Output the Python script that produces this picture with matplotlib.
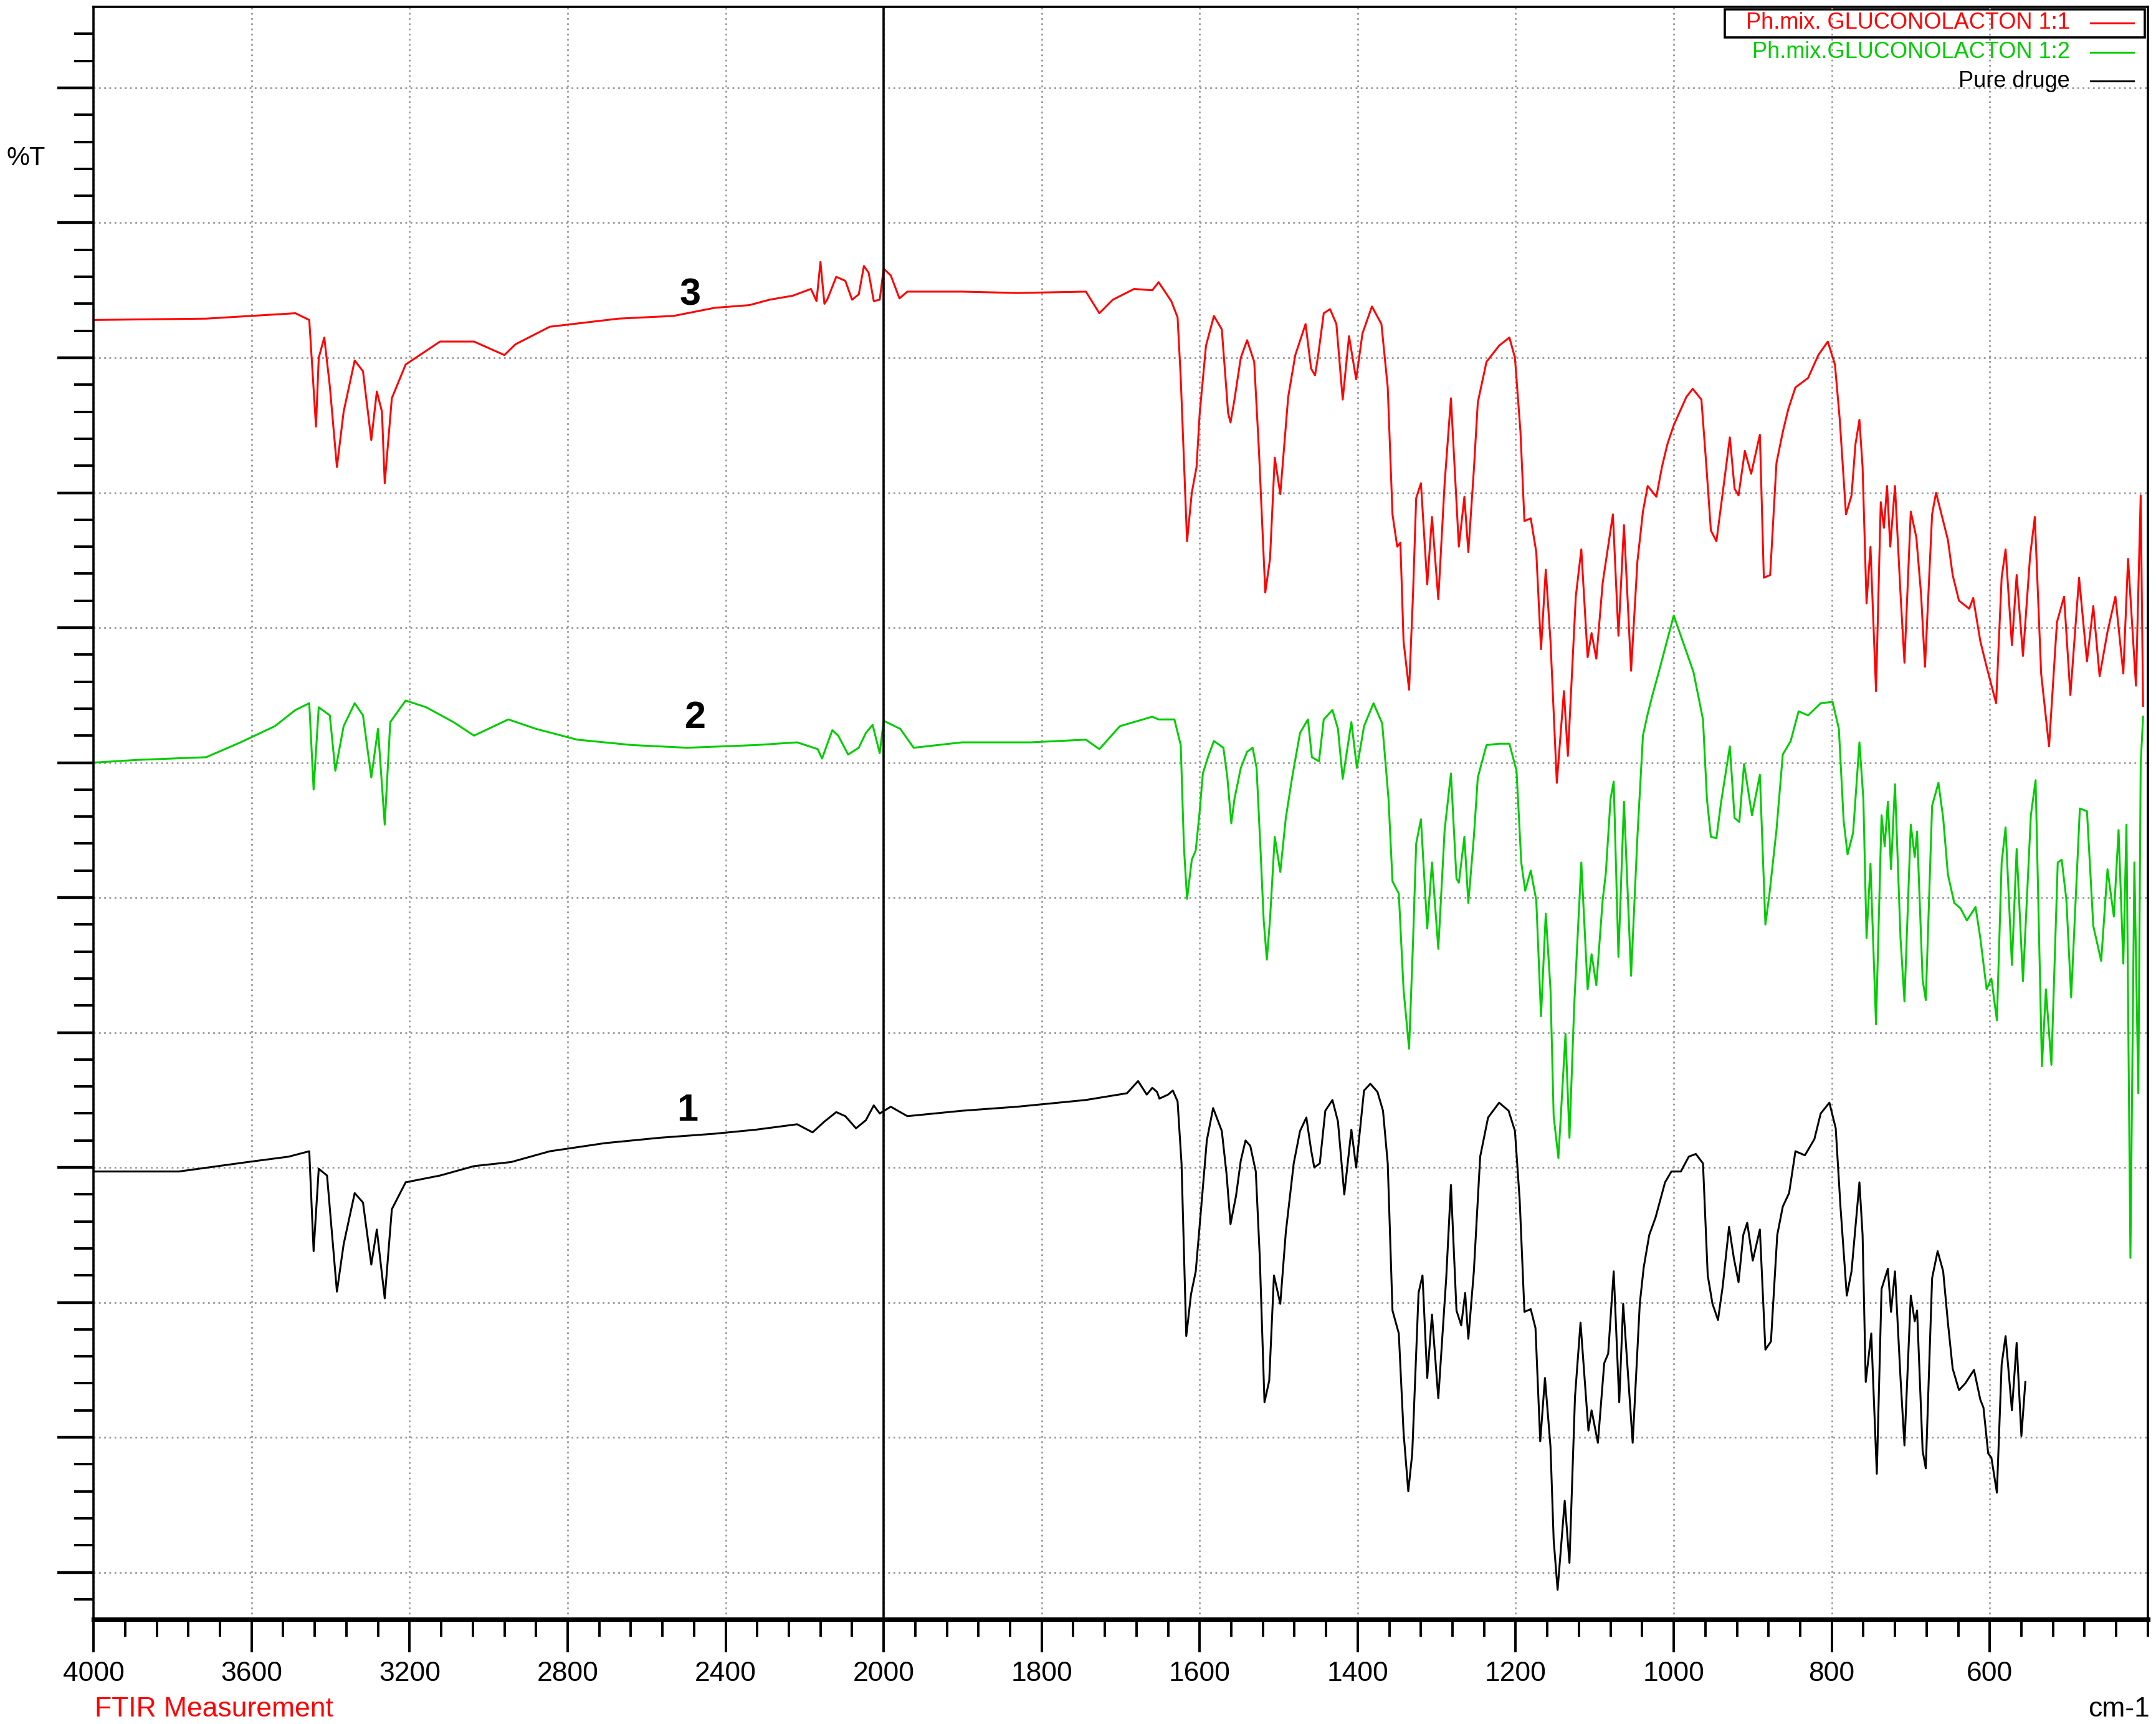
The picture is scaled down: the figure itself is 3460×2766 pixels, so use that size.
"""
FTIR - Pure druge vs. Ph.mix. GLUCONOLACTON (1:1, 1:2)
values read off the reference spectrum (arbitrary %T scale)
"""
import numpy as np
import matplotlib.pyplot as plt
from matplotlib.ticker import FixedLocator, NullFormatter

# (wavenumber cm-1, %T)
red_pts = [
    (4000, 92.8), (3715, 92.9), (3489, 93.3), (3454, 92.8), (3437, 84.9), (3430, 90.0),
    (3416, 91.5), (3402, 87.9), (3384, 81.9), (3367, 86.0), (3339, 89.8), (3318, 89.0),
    (3297, 83.9), (3283, 87.5), (3270, 86.0), (3263, 80.7), (3245, 87.0), (3210, 89.5),
    (3123, 91.2), (3037, 91.2), (2960, 90.2), (2932, 91.0), (2845, 92.3), (2671, 92.9),
    (2532, 93.1), (2428, 93.7), (2340, 93.9), (2289, 94.3), (2230, 94.6), (2184, 95.1),
    (2170, 94.2), (2160, 97.1), (2150, 94.0), (2143, 94.3), (2120, 96.0), (2097, 95.7),
    (2080, 94.3), (2063, 94.7), (2050, 96.8), (2038, 96.3), (2025, 94.2), (2010, 94.3),
    (2000, 96.6), (1991, 96.1), (1980, 94.4), (1970, 94.9), (1901, 94.9), (1831, 94.8),
    (1744, 94.9), (1727, 93.3), (1710, 94.3), (1683, 95.1),
    (1660, 95.0), (1652, 95.6), (1636, 94.2), (1628, 93.0), (1624, 88.5), (1616, 76.4),
    (1610, 80.0), (1604, 81.9), (1600, 85.9), (1592, 90.9), (1582, 93.1), (1572, 92.1),
    (1564, 85.9), (1561, 85.2), (1556, 86.9), (1548, 90.0), (1540, 91.3), (1531, 89.7),
    (1525, 83.1), (1517, 72.6), (1511, 75.1), (1505, 82.6), (1498, 79.9), (1488, 87.1),
    (1479, 90.2), (1466, 92.5), (1459, 89.2), (1454, 88.7), (1450, 90.2), (1443, 93.3),
    (1435, 93.6), (1427, 92.5), (1419, 86.9), (1411, 91.6), (1402, 88.4), (1394, 91.8),
    (1382, 93.8), (1370, 92.5), (1362, 87.8), (1356, 78.4), (1350, 76.0), (1346, 76.3),
    (1342, 69.0), (1335, 65.4), (1330, 72.5), (1326, 79.6), (1320, 80.7), (1312, 73.2),
    (1306, 78.2), (1298, 72.1), (1290, 80.7), (1282, 87.0), (1278, 82.6), (1272, 76.0),
    (1265, 79.7), (1260, 75.6), (1253, 81.7), (1248, 86.7), (1237, 89.7), (1221, 90.9),
    (1208, 91.5), (1201, 90.0), (1194, 84.5), (1189, 77.9), (1181, 78.1), (1174, 75.6),
    (1168, 68.4), (1162, 74.3), (1156, 69.0), (1148, 58.5), (1139, 65.3), (1134, 60.5),
    (1124, 72.3), (1117, 75.8), (1109, 67.8), (1104, 69.6), (1098, 67.7), (1090, 73.3),
    (1077, 78.4), (1070, 69.4), (1063, 77.6), (1054, 66.8), (1046, 74.9), (1039, 78.6),
    (1033, 80.5), (1022, 79.7), (1015, 81.9), (1008, 83.6), (1000, 85.0), (984, 87.1),
    (976, 87.7), (965, 86.9), (959, 82.2), (953, 77.2), (946, 76.4), (940, 79.1),
    (929, 84.1), (923, 80.3), (918, 79.8), (910, 83.1), (902, 81.4), (891, 84.3),
    (886, 73.7), (878, 73.9), (870, 82.2), (862, 84.5), (855, 86.2), (846, 87.8),
    (830, 88.5), (817, 90.2), (805, 91.2), (796, 89.5), (790, 85.5), (782, 78.4),
    (775, 79.8), (770, 83.6), (765, 85.4), (761, 81.9), (756, 71.8), (751, 76.0),
    (744, 65.3), (738, 79.3), (734, 77.4), (730, 80.5), (726, 76.0), (720, 80.5),
    (713, 72.5), (708, 67.4), (700, 78.6), (693, 76.7), (687, 72.5), (682, 67.1),
    (673, 78.4), (668, 80.0), (659, 77.9), (653, 76.5), (647, 73.9), (639, 72.0),
    (626, 71.4), (621, 72.2), (612, 69.0), (604, 67.1), (592, 64.4), (585, 73.7),
    (580, 75.8), (572, 68.7), (566, 73.9), (558, 67.9), (549, 75.3), (543, 78.2),
    (535, 66.6), (525, 61.2), (515, 70.4), (506, 72.3), (498, 65.0), (487, 73.7),
    (477, 67.5), (469, 71.6), (461, 66.4), (451, 69.7), (441, 72.3), (431, 66.6),
    (425, 75.1), (415, 65.7), (409, 79.8), (406, 64.2),
]

green_pts = [
    (4000, 60.0), (3889, 60.2), (3715, 60.4), (3628, 61.5), (3541, 62.7), (3489, 63.9),
    (3454, 64.4), (3443, 58.0), (3430, 64.1), (3402, 63.5), (3388, 59.4), (3367, 62.7),
    (3339, 64.4), (3318, 63.5), (3297, 58.9), (3280, 62.5), (3263, 55.4), (3249, 63.0),
    (3210, 64.6), (3158, 64.1), (3089, 63.0), (3037, 62.0), (2950, 63.2), (2880, 62.5),
    (2776, 61.7), (2637, 61.3), (2497, 61.1), (2323, 61.3), (2219, 61.5), (2167, 61.0),
    (2156, 60.3), (2130, 62.4), (2115, 62.0), (2090, 60.6), (2063, 61.1), (2045, 62.2),
    (2028, 62.8), (2010, 60.7), (2000, 63.1), (1979, 62.5), (1962, 61.1), (1901, 61.5),
    (1814, 61.5), (1744, 61.7), (1727, 61.0), (1701, 62.7),
    (1660, 63.4), (1652, 63.2), (1632, 63.2), (1624, 61.3), (1620, 53.8), (1616, 49.9),
    (1610, 52.8), (1605, 53.5), (1600, 56.4), (1596, 59.2), (1589, 60.5), (1582, 61.6),
    (1570, 61.1), (1565, 58.9), (1560, 55.5), (1556, 57.3), (1548, 59.6), (1540, 60.8),
    (1533, 61.1), (1528, 59.6), (1523, 53.5), (1519, 48.3), (1515, 45.4), (1511, 48.4),
    (1505, 54.5), (1498, 51.9), (1491, 55.9), (1483, 58.9), (1473, 62.2), (1463, 63.2),
    (1458, 60.4), (1449, 60.1), (1443, 63.2), (1432, 63.9), (1425, 62.5), (1419, 58.8),
    (1408, 63.0), (1401, 59.6), (1392, 62.7), (1380, 64.4), (1369, 62.9), (1361, 57.3),
    (1356, 51.2), (1348, 50.3), (1342, 43.2), (1335, 38.8), (1330, 46.7), (1326, 54.0),
    (1320, 55.8), (1312, 47.7), (1306, 52.6), (1298, 46.2), (1290, 55.0), (1282, 59.2),
    (1275, 51.4), (1272, 51.1), (1265, 54.5), (1260, 49.6), (1253, 54.5), (1248, 58.9),
    (1237, 61.3), (1221, 61.4), (1208, 61.4), (1199, 59.4), (1193, 52.6), (1188, 50.5),
    (1181, 52.0), (1174, 49.8), (1168, 41.2), (1162, 48.8), (1156, 43.2), (1152, 33.8),
    (1146, 30.7), (1137, 39.9), (1132, 32.2), (1126, 42.0), (1117, 52.6), (1109, 43.2),
    (1104, 45.8), (1098, 43.5), (1090, 49.8), (1086, 51.8), (1080, 57.3), (1076, 58.6),
    (1070, 45.6), (1063, 57.1), (1054, 44.2), (1046, 54.5), (1039, 62.0), (1033, 63.6),
    (1027, 65.0), (1019, 66.7), (1000, 70.9), (975, 66.7), (963, 63.2), (958, 57.3),
    (953, 54.5), (946, 54.4), (940, 57.1), (929, 61.2), (923, 55.9), (917, 55.6),
    (911, 59.9), (901, 56.1), (891, 59.1), (884, 48.0), (879, 50.2), (870, 55.0),
    (862, 60.6), (852, 61.6), (842, 63.8), (830, 63.5), (814, 64.4), (799, 64.5),
    (791, 62.5), (785, 55.7), (780, 53.2), (773, 54.8), (765, 61.5), (760, 57.3),
    (756, 47.0), (751, 52.5), (744, 40.6), (737, 56.1), (733, 53.8), (729, 57.1),
    (725, 52.1), (720, 58.4), (713, 47.0), (708, 42.3), (700, 55.4), (695, 53.0),
    (692, 54.9), (685, 43.9), (681, 42.4), (673, 56.8), (665, 58.5), (659, 55.9),
    (653, 51.7), (645, 49.6), (637, 49.2), (629, 48.3), (618, 49.3), (612, 47.0),
    (604, 43.2), (598, 44.0), (591, 40.9), (585, 52.6), (580, 55.2), (572, 45.0),
    (566, 53.6), (558, 43.8), (548, 56.1), (542, 58.7), (534, 37.5), (529, 43.2),
    (522, 37.6), (514, 52.6), (509, 52.8), (503, 49.8), (497, 42.6), (486, 56.6),
    (477, 56.4), (469, 47.9), (459, 45.3), (451, 52.1), (443, 48.6), (437, 55.0),
    (431, 45.1), (427, 55.4), (422, 23.3), (417, 52.6), (412, 35.5), (409, 59.9),
    (406, 63.4),
]

black_pts = [
    (4000, 29.7), (3784, 29.7), (3610, 30.4), (3506, 30.8), (3454, 31.2), (3443, 23.8),
    (3430, 29.9), (3409, 29.4), (3384, 20.8), (3367, 24.3), (3339, 28.1), (3318, 27.4),
    (3297, 22.8), (3283, 25.4), (3263, 20.3), (3245, 26.9), (3210, 28.9), (3123, 29.4),
    (3037, 30.1), (2943, 30.4), (2845, 31.2), (2706, 31.8), (2567, 32.2), (2428, 32.5),
    (2323, 32.8), (2219, 33.2), (2180, 32.6), (2150, 33.4), (2120, 34.1), (2097, 33.8),
    (2070, 32.9), (2045, 33.5), (2025, 34.6), (2010, 34.0), (1991, 34.5), (1970, 33.8),
    (1901, 34.2), (1831, 34.5), (1744, 35.0), (1692, 35.5), (1678, 36.4), (1667, 35.4),
    (1660, 35.9), (1654, 35.6), (1651, 35.1), (1640, 35.4), (1634, 35.7), (1628, 34.9),
    (1623, 30.3), (1617, 17.5), (1611, 20.6), (1605, 22.3), (1598, 27.1), (1591, 32.0),
    (1583, 34.4), (1572, 32.7), (1566, 29.5), (1561, 25.8), (1554, 27.9), (1548, 30.5),
    (1542, 32.0), (1536, 31.6), (1529, 29.7), (1524, 23.4), (1518, 12.6), (1512, 14.2),
    (1506, 22.0), (1498, 19.9), (1491, 25.2), (1481, 30.3), (1473, 32.7), (1465, 33.7),
    (1459, 31.3), (1455, 30.0), (1448, 30.3), (1441, 34.2), (1432, 35.0), (1425, 33.4),
    (1417, 28.0), (1408, 32.8), (1402, 30.0), (1392, 35.7), (1384, 36.2), (1375, 35.6),
    (1368, 34.2), (1362, 30.3), (1356, 19.4), (1348, 17.7), (1342, 10.4), (1336, 6.0),
    (1331, 8.8), (1323, 20.7), (1318, 22.0), (1312, 14.4), (1306, 19.1), (1298, 12.9),
    (1288, 21.8), (1282, 28.7), (1275, 19.4), (1269, 18.3), (1264, 20.7), (1260, 17.3),
    (1253, 22.3), (1245, 30.8), (1235, 33.7), (1221, 34.8), (1209, 34.2), (1201, 32.7),
    (1195, 27.6), (1189, 19.3), (1181, 19.5), (1175, 18.1), (1169, 9.7), (1163, 14.4),
    (1156, 9.3), (1152, 2.4), (1147, -1.3), (1138, 5.3), (1132, 0.7), (1125, 13.0),
    (1118, 18.5), (1108, 10.5), (1104, 12.0), (1096, 9.6), (1088, 15.5), (1083, 16.2),
    (1076, 22.3), (1069, 12.6), (1064, 19.9), (1052, 9.6), (1043, 19.9), (1038, 22.6),
    (1031, 25.0), (1023, 26.3), (1017, 27.6), (1011, 28.9), (1003, 29.7), (991, 29.7),
    (981, 30.8), (972, 31.0), (963, 30.3), (957, 22.0), (951, 19.9), (944, 18.7),
    (938, 21.2), (930, 25.6), (924, 23.3), (918, 21.5), (912, 25.0), (907, 25.9),
    (900, 23.1), (891, 25.4), (884, 16.5), (877, 17.1), (869, 25.0), (862, 27.1),
    (854, 28.1), (846, 31.2), (834, 30.9), (822, 32.1), (814, 34.0), (803, 34.8),
    (795, 32.9), (789, 27.1), (781, 20.5), (775, 22.3), (765, 28.9), (761, 25.0),
    (757, 14.1), (750, 17.7), (743, 7.3), (737, 21.0), (729, 22.5), (725, 19.3),
    (720, 22.3), (713, 14.4), (708, 9.4), (700, 20.5), (695, 18.6), (692, 19.4),
    (685, 9.0), (681, 7.7), (673, 21.8), (666, 23.8), (659, 22.3), (653, 18.5),
    (647, 15.1), (639, 13.5), (631, 14.0), (620, 15.0), (612, 12.8), (608, 12.2),
    (602, 8.8), (598, 8.5), (591, 5.9), (585, 15.4), (580, 17.5), (572, 12.0),
    (566, 17.0), (560, 10.1), (555, 14.1),
]

series = [
    ("Ph.mix. GLUCONOLACTON 1:1", red_pts, "#ff0000"),
    ("Ph.mix.GLUCONOLACTON 1:2", green_pts, "#00cc00"),
    ("Pure druge", black_pts, "black"),
]
# curve numbers: (label, wavenumber, %T)
curve_labels = [("3", 2490, 94.6), ("2", 2476, 63.3), ("1", 2497, 34.2)]

x_major = [4000, 3600, 3200, 2800, 2400, 2000, 1800, 1600, 1400, 1200, 1000, 800, 600]


# scale doubles below 2000 cm-1 (usual FTIR display)
def fwd(x):
    x = np.asarray(x, dtype=float)
    return np.where(x >= 2000, (x - 2000) * 0.5, x - 2000)


def inv(y):
    y = np.asarray(y, dtype=float)
    return np.where(y >= 0, y * 2 + 2000, y + 2000)


plt.rcParams["font.family"] = ["Liberation Sans Narrow", "Liberation Sans", "DejaVu Sans"]

fig = plt.figure(figsize=(17.3, 13.83), dpi=200)
ax = fig.add_axes([0.0434, 0.0606, 0.9528, 0.9354])
ax.set_xscale("function", functions=(fwd, inv))

for name, pts, col in series:
    arr = np.array(pts)
    ax.plot(arr[:, 0], arr[:, 1], color=col, linewidth=1.1)

for txt, wn, t in curve_labels:
    ax.text(wn, t, txt, fontsize=22, fontweight="bold", family="Liberation Sans",
            ha="center", va="center")

ax.set_xlim(4000, 400)
ax.set_ylim(-3.5, 116)

ax.xaxis.set_major_locator(FixedLocator(x_major))
minors = list(np.arange(4000, 2000, -80)) + list(np.arange(2000, 399, -40))
ax.xaxis.set_minor_locator(FixedLocator(minors))
ax.yaxis.set_major_locator(FixedLocator(np.arange(0, 111, 10)))
ax.yaxis.set_minor_locator(FixedLocator(np.arange(-2, 116, 2)))
ax.set_xticklabels([str(v) for v in x_major])
ax.yaxis.set_major_formatter(NullFormatter())
ax.tick_params(axis="x", which="major", length=19, width=1.4, labelsize=16, pad=5)
ax.tick_params(axis="x", which="minor", length=10, width=1.4)
ax.tick_params(axis="y", which="major", length=21, width=1.6)
ax.tick_params(axis="y", which="minor", length=11, width=1.4)

ax.grid(True, which="major", color="#999999", linestyle=(0, (1, 2)), linewidth=1.0)
ax.axvline(2000, color="black", linewidth=1.3, zorder=3)
for s in ax.spines.values():
    s.set_linewidth(1.3)
ax.spines["bottom"].set_linewidth(2.6)

# legend drawn as in the instrument software
ly = [0.990, 0.972, 0.954]
for (name, pts, col), y in zip(series, ly):
    ax.text(0.962, y, name, transform=ax.transAxes, color=col, fontsize=13,
            family="Liberation Sans", ha="right", va="center")
    ax.plot([0.972, 0.993], [y, y], transform=ax.transAxes, color=col, linewidth=1.1)
ax.add_patch(plt.Rectangle((0.794, 0.981), 0.2045, 0.0175, transform=ax.transAxes,
                           fill=False, edgecolor="black", linewidth=1.3))

fig.text(0.003, 0.908, "%T", fontsize=15, family="Liberation Sans", ha="left", va="center")
fig.text(0.044, 0.001, "FTIR Measurement", fontsize=16, color="red", ha="left", va="bottom")
fig.text(0.997, 0.001, "cm-1", fontsize=16, ha="right", va="bottom")

fig.savefig("out.png", dpi=200)
plt.close()
